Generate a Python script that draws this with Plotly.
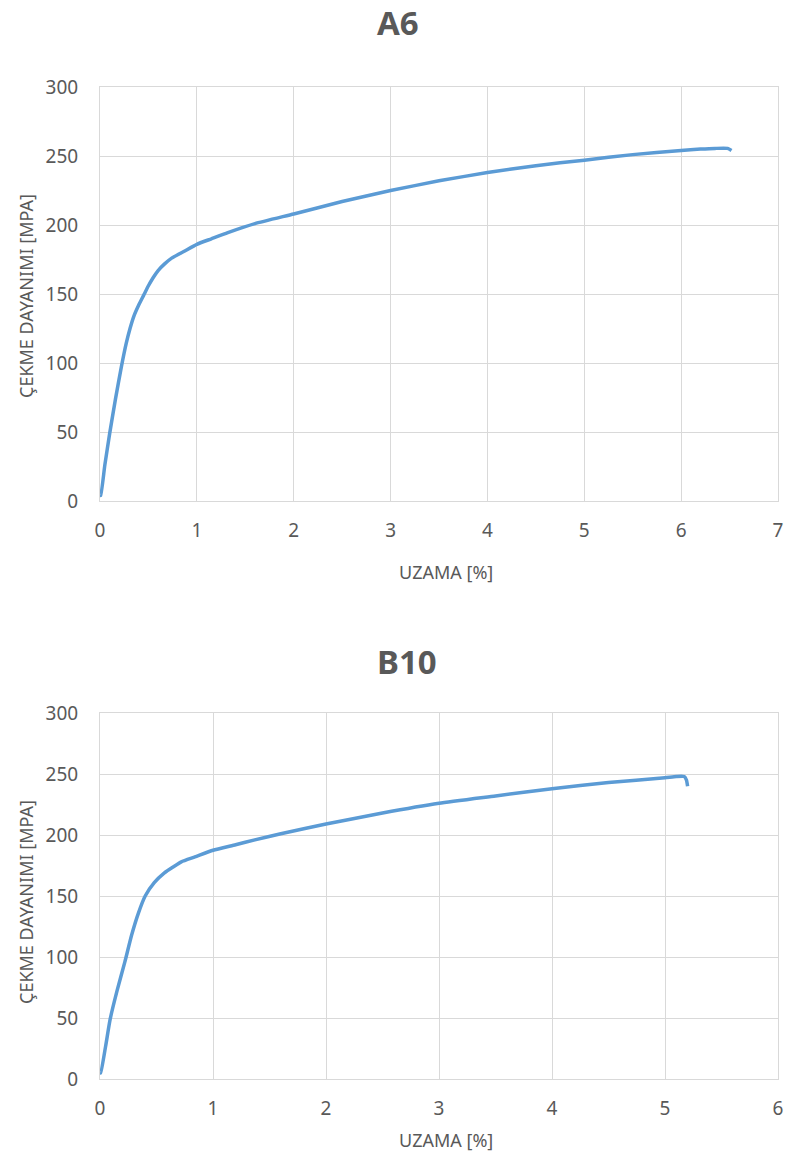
import plotly.graph_objects as go

# A6 data (UZAMA %, ÇEKME DAYANIMI MPa)
a6_x = [0.0, 0.007, 0.05, 0.1, 0.16, 0.22, 0.27, 0.31, 0.35, 0.4, 0.45, 0.5, 0.55, 0.6, 0.67, 0.74, 0.87, 1.0,
        1.15, 1.32, 1.6, 2.0, 2.5, 3.0, 3.5, 4.0, 4.5, 5.0, 5.5, 6.0, 6.2, 6.35, 6.48, 6.52]
a6_y = [4, 4, 26, 49, 74, 97, 114, 125, 134, 142, 149, 156, 162, 167, 172, 176, 181, 186,
        190, 194.5, 201, 208, 217, 225, 232, 238, 243, 247, 251, 254, 255, 255.5, 255.5, 254]

# B10 data
b10_x = [0.0, 0.006, 0.05, 0.09, 0.15, 0.22, 0.28, 0.34, 0.4, 0.48, 0.57, 0.65, 0.72, 0.84, 1.0,
         1.2, 1.37, 1.6, 2.0, 2.5, 3.0, 3.5, 4.0, 4.5, 5.0, 5.1, 5.17, 5.19, 5.2]
b10_y = [5, 5, 27, 49, 72, 96, 118, 136, 150, 161, 169, 174, 178, 182, 187.5,
         192, 196, 201, 209, 218, 226, 232, 238, 243, 247, 248, 248, 245, 240]

x_title = "UZAMA [%]"
y_title = "ÇEKME DAYANIMI [MPA]"
titles = ["A6", "B10"]
y_ticks = [0, 50, 100, 150, 200, 250, 300]

W, H = 788, 1157
line_color = "#5B9BD5"
grid = "#D9D9D9"
txt = "#595959"
font_family = "Noto Sans, Open Sans, Liberation Sans, sans-serif"

fig = go.Figure()
fig.add_trace(go.Scatter(x=a6_x, y=a6_y, mode="lines",
                         line=dict(color=line_color, width=3.5, shape="spline", smoothing=0.5),
                         xaxis="x", yaxis="y", showlegend=False))
fig.add_trace(go.Scatter(x=b10_x, y=b10_y, mode="lines",
                         line=dict(color=line_color, width=3.5, shape="spline", smoothing=0.5),
                         xaxis="x2", yaxis="y2", showlegend=False))

xdom = [100 / W, 778 / W]
top_dom = [(H - 501) / H, (H - 87) / H]
bot_dom = [(H - 1079) / H, (H - 713) / H]

axis_common = dict(showgrid=True, gridcolor=grid, gridwidth=1, zeroline=False,
                   showline=True, linecolor=grid, mirror=True, ticks="", automargin=False,
                   tickfont=dict(size=19, color=txt, family=font_family))

fig.update_layout(
    width=W, height=H, margin=dict(l=0, r=0, t=0, b=0, pad=0),
    paper_bgcolor="white", plot_bgcolor="white",
    font=dict(family=font_family, color=txt),
    xaxis=dict(domain=xdom, anchor="y", range=[0, 7], dtick=1, ticklabelstandoff=12, **axis_common),
    yaxis=dict(domain=top_dom, anchor="x", range=[0, 300], tickvals=y_ticks, ticklabelstandoff=17, **axis_common),
    xaxis2=dict(domain=xdom, anchor="y2", range=[0, 6], dtick=1, ticklabelstandoff=12, **axis_common),
    yaxis2=dict(domain=bot_dom, anchor="x2", range=[0, 300], tickvals=y_ticks, ticklabelstandoff=17, **axis_common),
)

annotations = []
for title, tx, ty in zip(titles, [398, 407], [22, 661]):
    annotations.append(dict(text=f"<b>{title}</b>", x=tx / W, y=1 - ty / H,
                            xref="paper", yref="paper", showarrow=False, xanchor="center", yanchor="middle",
                            font=dict(size=33, color=txt, family=font_family)))
for ty in [572, 1140]:
    annotations.append(dict(text=x_title, x=446 / W, y=1 - ty / H,
                            xref="paper", yref="paper", showarrow=False, xanchor="center", yanchor="middle",
                            font=dict(size=18, color=txt, family=font_family)))
for cy in [296, 902]:
    annotations.append(dict(text=y_title, x=26 / W, y=1 - cy / H, textangle=-90,
                            xref="paper", yref="paper", showarrow=False, xanchor="center", yanchor="middle",
                            font=dict(size=18, color=txt, family=font_family)))
fig.update_layout(annotations=annotations)

fig.write_html("out.html")
